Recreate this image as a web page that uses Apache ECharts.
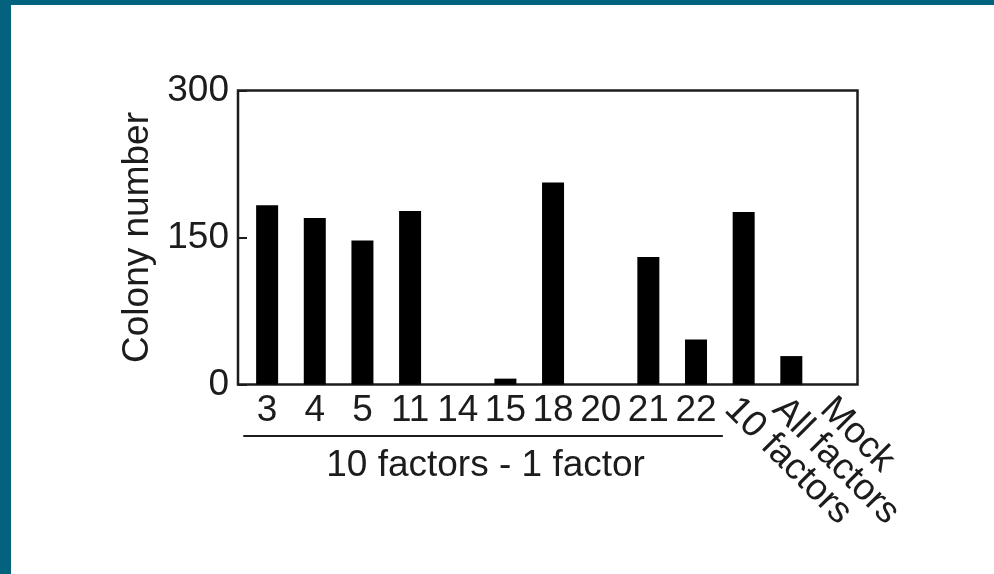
<!DOCTYPE html>
<html>
<head>
<meta charset="utf-8">
<script src="https://cdn.jsdelivr.net/npm/echarts@6/dist/echarts.min.js"></script>
<style>
html, body { margin: 0; padding: 0; background: #fff; }
#chart { width: 994px; height: 574px; }
.edge { position: absolute; background: #03637f; }
</style>
</head>
<body>
<div id="chart"></div>
<div class="edge" style="left:0;top:0;width:994px;height:5px"></div>
<div class="edge" style="left:0;top:0;width:11px;height:574px"></div>
<script>
// data
var categories = ['3', '4', '5', '11', '14', '15', '18', '20', '21', '22', '10 factors', 'All factors', 'Mock'];
var colonyCounts = [183, 170, 147, 177, 0, 6, 206, 0, 130, 46, 176, 29, 0];
var yTicks = [0, 150, 300];
var groupLabel = '10 factors - 1 factor';
var groupSize = 10; // first ten bars sit under the bracket

var FONT = '"Liberation Sans", Arial, Helvetica, sans-serif';
var INK = '#1c1c1c';

var chart = echarts.init(document.getElementById('chart'));

chart.setOption({
  animation: false,
  backgroundColor: '#fff',
  grid: [
    // frame + y axis
    { left: 238, top: 90.5, width: 619.5, height: 294, show: true, borderColor: INK, borderWidth: 2.5, backgroundColor: 'transparent', outerBoundsMode: 'none' },
    // bars
    { left: 243.3, top: 90.5, width: 619.5, height: 294, outerBoundsMode: 'none' }
  ],
  xAxis: [
    { gridIndex: 0, type: 'category', data: categories, show: false },
    {
      gridIndex: 1, type: 'category', position: 'bottom', data: categories,
      axisLine: { show: false }, axisTick: { show: false },
      axisLabel: {
        interval: 0, margin: 8, fontSize: 37, fontFamily: FONT, color: INK,
        formatter: function (v, i) { return i < groupSize ? v : ''; }
      }
    },
    {
      gridIndex: 1, type: 'category', position: 'bottom', data: categories,
      axisLine: { show: false }, axisTick: { show: false },
      axisLabel: {
        interval: 0, margin: 6, rotate: -45, verticalAlign: 'top',
        fontSize: 37, fontFamily: FONT, color: INK,
        formatter: function (v, i) { return i >= groupSize ? v : ''; }
      }
    }
  ],
  yAxis: [
    {
      gridIndex: 0, type: 'value',
      min: yTicks[0], max: yTicks[yTicks.length - 1], interval: yTicks[1] - yTicks[0],
      name: 'Colony number', nameLocation: 'middle', nameGap: 80,
      nameTextStyle: { fontSize: 37, fontFamily: FONT, color: INK },
      axisLine: { show: false },
      axisTick: { show: true, inside: true, length: 9, lineStyle: { color: INK, width: 2 } },
      axisLabel: { fontSize: 37, fontFamily: FONT, color: INK, margin: 9 },
      splitLine: { show: false }
    },
    {
      gridIndex: 1, type: 'value',
      min: yTicks[0], max: yTicks[yTicks.length - 1], show: false
    }
  ],
  series: [
    {
      type: 'bar',
      xAxisIndex: 1, yAxisIndex: 1,
      data: colonyCounts,
      barWidth: 22,
      itemStyle: { color: '#000' }
    }
  ]
});

// bracket under the first ten categories
var bandW = 619.5 / categories.length;
var x0 = chart.convertToPixel({ xAxisIndex: 1 }, categories[0]) - bandW / 2;
var x1 = chart.convertToPixel({ xAxisIndex: 1 }, categories[groupSize - 1]) + bandW / 2;
chart.setOption({
  graphic: [
    {
      type: 'line',
      shape: { x1: x0, y1: 436, x2: x1 + 3, y2: 436 },
      style: { stroke: INK, lineWidth: 2 }
    },
    {
      type: 'text',
      style: {
        text: groupLabel, x: (x0 + x1) / 2 + 4, y: 466,
        fontSize: 37, fontFamily: FONT, fill: INK,
        align: 'center', verticalAlign: 'middle'
      }
    }
  ]
});
</script>
</body>
</html>
